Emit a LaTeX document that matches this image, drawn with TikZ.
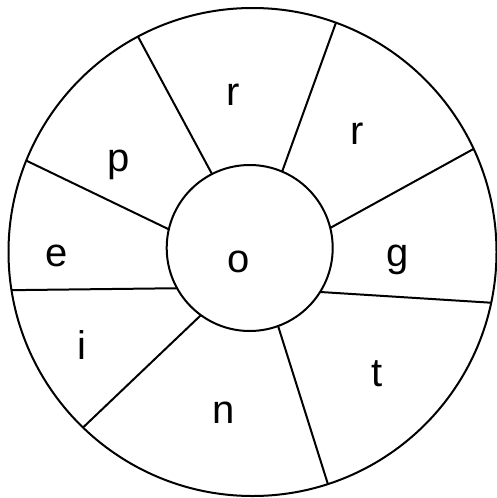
\documentclass[tikz,border=0pt]{standalone}
\usepackage{fontspec}
\setmainfont{Liberation Sans}
\usetikzlibrary{positioning}

\begin{document}
\begin{tikzpicture}[x=1pt, y=-1pt,
    wheel/.style={circle, draw, line width=2pt, inner sep=0pt, outer sep=0pt},
    spoke/.style={line width=2pt},
    letter/.style={font=\fontsize{40}{44}\selectfont, inner sep=0pt},
  ]
  \useasboundingbox (0,0) rectangle (496,498);

  \node[wheel, minimum size=488pt] (rim) at (252.5,252) {};
  \node[wheel, minimum size=166pt] (hub) at (249.7,248) {};

  % spokes: angle on hub / angle on rim
  \foreach \a/\b in {117/118, 67/70, 14/25, -32/-12, -70/-72, 234/226, 209/189, 167/158}
    \draw[spoke] (hub.\a) -- (rim.\b);

  \node[letter] (o)  at (239,262) {o};
  \node[letter] (r1) at (233,95)  {r};
  \node[letter] (r2) at (357,134) {r};
  \node[letter] (g)  at (398,260) {g};
  \node[letter] (t)  at (377,374) {t};
  \node[letter] (n)  at (224,413) {n};
  \node[letter] (i)  at (82,345)  {i};
  \node[letter] (e)  at (57,256)  {e};
  \node[letter] (p)  at (119,165) {p};

\end{tikzpicture}
\end{document}
